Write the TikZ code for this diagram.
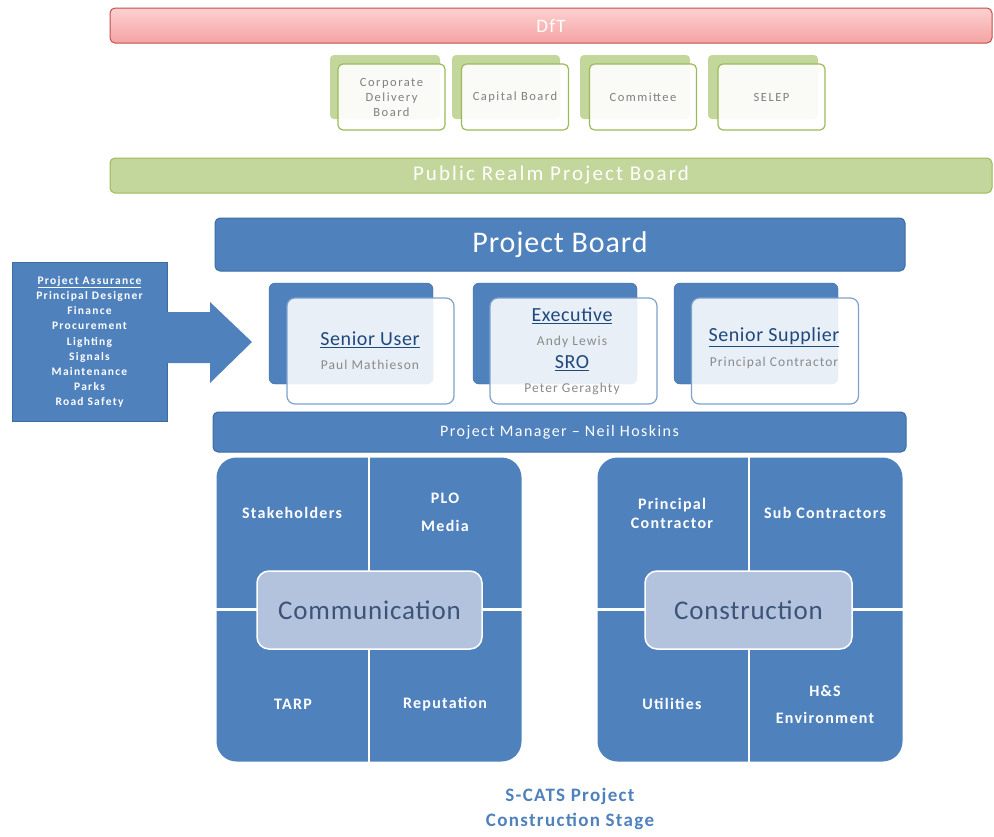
\documentclass[tikz,border=0pt]{standalone}
\usepackage{fontspec}
\setmainfont{Carlito}
\newcommand\lspc[1]{\addfontfeature{LetterSpace=#1}}
\definecolor{pblue}{HTML}{4F81BD}
\definecolor{bdr}{HTML}{3D6CA5}
\definecolor{lblue}{HTML}{7EA1CE}
\definecolor{pgreen}{HTML}{C3D69B}
\definecolor{gbdr}{HTML}{9BBB59}
\definecolor{pinkt}{HTML}{FDD0D0}
\definecolor{pinkb}{HTML}{F5A3A3}
\definecolor{rbdr}{HTML}{C0504D}
\definecolor{dtext}{HTML}{1F497D}
\definecolor{gtext}{HTML}{8A8A8A}
\definecolor{ctext}{HTML}{3B5478}
\definecolor{cfill}{HTML}{B3C3DE}
\definecolor{greytext}{HTML}{7F7F7F}
\tikzset{
  bar/.style={rounded corners=5pt, inner sep=0pt, line width=1pt},
  bluebar/.style={bar, draw=bdr, fill=pblue, text=white},
  gback/.style={fill=pgreen, rounded corners=4pt, inner sep=0pt},
  gfront/.style={draw=gbdr, line width=1.2pt, fill=white, fill opacity=0.92, text opacity=1, rounded corners=5pt, inner sep=0pt, minimum width=107pt, minimum height=66pt, align=center, text=greytext, font=\fontsize{12.5}{15}\selectfont\lspc{12}},
  bback/.style={fill=pblue, draw=bdr, rounded corners=6pt, inner sep=0pt, minimum width=164pt, minimum height=101pt},
  bfront/.style={draw=lblue, line width=1.2pt, fill=white, fill opacity=0.88, rounded corners=8pt, inner sep=0pt, minimum width=167pt, minimum height=106pt},
  rolet/.style={text=dtext, font=\fontsize{20}{21}\selectfont\lspc{3}, inner sep=0pt},
  namet/.style={text=gtext, font=\fontsize{13.5}{14}\selectfont\lspc{8}, inner sep=0pt},
  quad/.style={fill=pblue, rounded corners=20pt, inner sep=0pt, minimum width=305pt, minimum height=304pt},
  cbox/.style={fill=cfill, draw=white, line width=1.5pt, rounded corners=12pt, inner sep=0pt, text=ctext, font=\fontsize{27}{28}\selectfont\lspc{3}, minimum height=78pt},
  qtext/.style={text=white, font=\bfseries\fontsize{16}{19}\selectfont\lspc{8}, align=center, inner sep=0pt},
  divider/.style={draw=white, line width=2.5pt}
}
\begin{document}
\begin{tikzpicture}[x=1pt,y=-1pt]
\useasboundingbox (0,0) rectangle (994,836);
% DfT
\node[bar, draw=rbdr, top color=pinkt, bottom color=pinkb, minimum width=882pt, minimum height=35pt, text=white, font=\fontsize{19}{20}\selectfont\lspc{6}] (dft) at (551,25.5) {DfT};
% green cards
\node[gback, minimum width=110pt, minimum height=64pt] (cb1) at (385,87) {};
\node[gfront] (c1) at (391.5,97) {Corporate\\Delivery\\Board};
\node[gback, minimum width=108pt, minimum height=64pt] (cb2) at (506,87) {};
\node[gfront] (c2) at (515,97) {Capital Board};
\node[gback, minimum width=110pt, minimum height=64pt] (cb3) at (635,87) {};
\node[gfront] (c3) at (643,97) {Committee};
\node[gback, minimum width=110pt, minimum height=64pt] (cb4) at (763,87) {};
\node[gfront] (c4) at (771.5,97) {SELEP};
% Public realm
\node[bar, draw=gbdr, fill=pgreen, minimum width=882pt, minimum height=35pt, text=white, font=\fontsize{21}{22}\selectfont\lspc{10}] (prpb) at (551,175.5) {Public Realm Project Board};
% Project board
\node[bluebar, minimum width=690pt, minimum height=53pt, font=\fontsize{30}{31}\selectfont\lspc{3}] (pb) at (560,244.5) {Project Board};
% assurance box
\node[fill=pblue, draw=bdr, inner sep=0pt, minimum width=155pt, minimum height=159pt, text=white, align=center, font=\bfseries\fontsize{11.5}{15.2}\selectfont\lspc{11}] (pa) at (89.5,342) {\underline{Project Assurance}\\Principal Designer\\Finance\\Procurement\\Lighting\\Signals\\Maintenance\\Parks\\Road Safety};
\coordinate (tip) at (252,342);
\fill[pblue] (pa.east |- 0,312) -- (210,312) -- (210,302) -- (tip) -- (210,383) -- (210,363) -- (pa.east |- 0,363) -- cycle;
% role boxes
\node[bback] (su0) at (351,333.5) {};
\node[bfront] (su) at (370.5,351) {};
\node[rolet] (sut) at (370,340) {\underline{Senior User}};
\node[namet] (sun) at (370,365) {Paul Mathieson};
\node[bback] (ex0) at (555,333.5) {};
\node[bfront] (ex) at (573.5,351) {};
\node[rolet] (ext) at (572,316) {\underline{Executive}};
\node[namet] (exn) at (572,342) {Andy Lewis};
\node[rolet] (sro) at (572,363) {\underline{SRO}};
\node[namet] (sron) at (572,389) {Peter Geraghty};
\node[bback] (ss0) at (756,333.5) {};
\node[bfront] (ss) at (775,351) {};
\node[rolet] (sst) at (774,337) {\underline{Senior Supplier}};
\node[namet] (ssn) at (774,363) {Principal Contractor};
% project manager
\node[bluebar, minimum width=693pt, minimum height=40pt, font=\fontsize{16}{17}\selectfont\lspc{9}] (pm) at (559.5,432) {Project Manager -- Neil Hoskins};
% communication block
\node[quad] (comm) at (369,609.5) {};
\draw[divider] (comm.north) -- (comm.south);
\draw[divider] (comm.west) -- (comm.east);
\node[cbox, minimum width=225pt] (commc) at (369.5,610) {Communication};
\node[qtext] (q1) at (292,513) {Stakeholders};
\node[qtext, font=\bfseries\fontsize{16}{28}\selectfont\lspc{8}] (q2) at (445,512) {PLO\\Media};
\node[qtext] (q3) at (293,704) {TARP};
\node[qtext] (q4) at (445,704) {Reputation};
% construction block
\node[quad] (cons) at (750,609.5) {};
\draw[divider] (cons.north -| 749,0) -- (cons.south -| 749,0);
\draw[divider] (cons.west) -- (cons.east);
\node[cbox, minimum width=207pt] (consc) at (748.5,610) {Construction};
\node[qtext] (r1) at (672,513) {Principal\\Contractor};
\node[qtext] (r2) at (825,513) {Sub Contractors};
\node[qtext] (r3) at (672,704) {Utilities};
\node[qtext, font=\bfseries\fontsize{16}{27}\selectfont\lspc{8}] (r4) at (825,705) {H\&S\\Environment};
% caption
\node[text=pblue, font=\bfseries\fontsize{19}{25}\selectfont\lspc{7}, align=center, inner sep=0pt] (cap) at (570,809) {S-CATS Project\\Construction Stage};
\end{tikzpicture}
\end{document}
